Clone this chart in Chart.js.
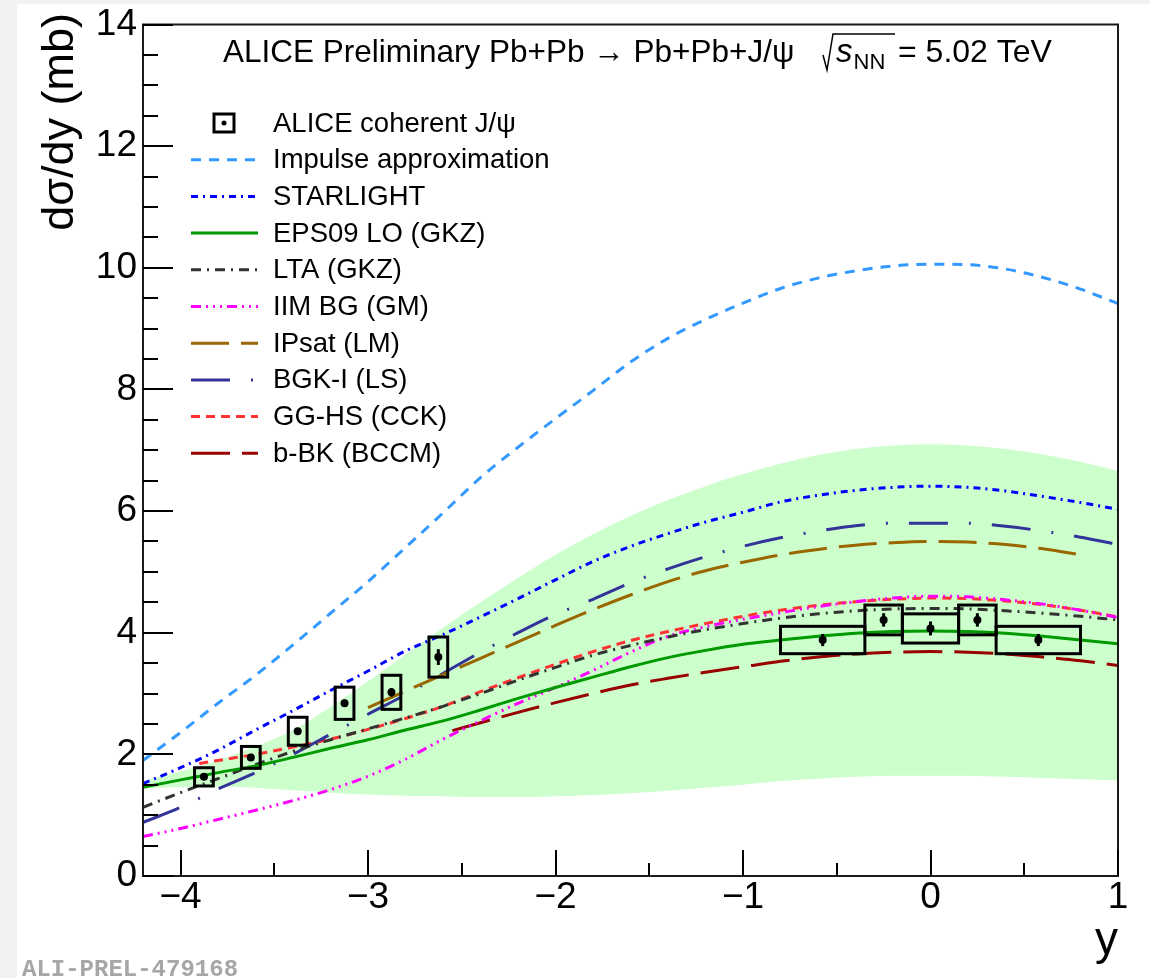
<!DOCTYPE html>
<html>
<head>
<meta charset="utf-8">
<script src="https://cdn.jsdelivr.net/npm/chart.js@4.4.0/dist/chart.umd.min.js"></script>
<style>
    html, body { margin: 0; padding: 0; background: #ffffff; }
    canvas { display: block; }
</style>
</head>
<body>
<canvas id="chart" width="1150" height="978"></canvas>
<script>
(function() {
    'use strict';

    var FONT = "'Liberation Sans', Arial, Helvetica, sans-serif";

    // Rapidity grid shared by most of the model curves
    var rapidity = [-4.2, -4.0, -3.8, -3.6, -3.4, -3.2, -3.0, -2.8, -2.6, -2.4, -2.2, -2.0, -1.8, -1.6,
                    -1.4, -1.2, -1.0, -0.8, -0.6, -0.4, -0.2, 0.0, 0.2, 0.4, 0.6, 0.8, 1.0];

    // Model predictions, dsigma/dy in mb
    var impulseApprox = [1.90, 2.36, 2.84, 3.30, 3.80, 4.32, 4.84, 5.40, 5.97, 6.55, 7.05, 7.52, 7.98, 8.45,
                         8.84, 9.15, 9.42, 9.66, 9.83, 9.95, 10.03, 10.06, 10.05, 9.98, 9.84, 9.65, 9.41];
    var starlight = [1.52, 1.78, 2.07, 2.40, 2.72, 3.05, 3.37, 3.70, 3.97, 4.26, 4.56, 4.87, 5.17, 5.42,
                     5.63, 5.82, 5.98, 6.15, 6.26, 6.34, 6.39, 6.41, 6.39, 6.33, 6.24, 6.14, 6.03];
    var eps09 = [1.46, 1.58, 1.70, 1.81, 1.95, 2.10, 2.24, 2.40, 2.55, 2.73, 2.92, 3.10, 3.27, 3.44,
                 3.59, 3.71, 3.81, 3.88, 3.94, 3.99, 4.02, 4.03, 4.02, 3.99, 3.94, 3.88, 3.82];
    var eps09High = [1.56, 1.72, 1.90, 2.13, 2.40, 2.78, 3.20, 3.64, 4.08, 4.50, 4.90, 5.28, 5.62, 5.92,
                     6.18, 6.41, 6.61, 6.78, 6.92, 7.02, 7.08, 7.10, 7.08, 7.02, 6.93, 6.81, 6.66];
    var eps09Low = [1.44, 1.46, 1.47, 1.45, 1.41, 1.37, 1.34, 1.32, 1.31, 1.30, 1.30, 1.31, 1.33, 1.36,
                    1.40, 1.45, 1.50, 1.56, 1.60, 1.63, 1.65, 1.65, 1.65, 1.63, 1.61, 1.59, 1.57];
    var lta = [1.13, 1.37, 1.60, 1.83, 2.05, 2.24, 2.42, 2.60, 2.79, 3.00, 3.22, 3.43, 3.63, 3.79,
               3.93, 4.05, 4.15, 4.24, 4.31, 4.36, 4.39, 4.40, 4.39, 4.36, 4.32, 4.27, 4.21];
    var iimBg = [0.65, 0.78, 0.93, 1.08, 1.24, 1.42, 1.64, 1.92, 2.25, 2.55, 2.84, 3.10, 3.38, 3.68,
                 3.94, 4.10, 4.22, 4.33, 4.43, 4.51, 4.57, 4.60, 4.59, 4.54, 4.47, 4.37, 4.25];
    var bgkI = [0.88, 1.13, 1.43, 1.70, 2.00, 2.33, 2.66, 2.98, 3.33, 3.68, 4.00, 4.30, 4.55, 4.82,
                5.05, 5.25, 5.42, 5.56, 5.67, 5.76, 5.80, 5.80, 5.80, 5.75, 5.67, 5.57, 5.45];

    var ipsatRapidity = [-3.0, -2.8, -2.6, -2.4, -2.2, -2.0, -1.8, -1.6, -1.4, -1.2, -1.0, -0.8, -0.6,
                         -0.4, -0.2, 0.0, 0.2, 0.4, 0.6, 0.8];
    var ipsat = [2.77, 3.04, 3.31, 3.58, 3.85, 4.12, 4.38, 4.62, 4.84, 5.02, 5.16, 5.28, 5.37,
                 5.44, 5.48, 5.50, 5.49, 5.45, 5.38, 5.28];

    var ggHsRapidity = [-3.9, -3.8, -3.6, -3.4, -3.2, -3.0, -2.8, -2.6, -2.4, -2.2, -2.0, -1.8, -1.6, -1.4,
                        -1.2, -1.0, -0.8, -0.6, -0.4, -0.2, 0.0, 0.2, 0.4, 0.6, 0.8, 1.0];
    var ggHs = [1.85, 1.90, 2.00, 2.12, 2.25, 2.41, 2.59, 2.79, 3.03, 3.26, 3.48, 3.69, 3.87, 4.02,
                4.15, 4.27, 4.37, 4.45, 4.51, 4.55, 4.57, 4.56, 4.52, 4.46, 4.37, 4.26];

    var bbkRapidity = [-2.55, -2.4, -2.2, -2.0, -1.8, -1.6, -1.4, -1.2, -1.0, -0.8, -0.6, -0.4, -0.2,
                       0.0, 0.2, 0.4, 0.6, 0.8, 1.0];
    var bbk = [2.39, 2.52, 2.69, 2.85, 3.00, 3.14, 3.25, 3.35, 3.44, 3.53, 3.60, 3.65, 3.68,
               3.69, 3.68, 3.65, 3.60, 3.54, 3.46];

    // ALICE measurement: bin centre, bin half width, value, stat. and syst. uncertainties
    var aliceRapidity = [-3.875, -3.625, -3.375, -3.125, -2.875, -2.625, -0.575, -0.25, 0.0, 0.25, 0.575];
    var aliceHalfWidth = [0.05, 0.05, 0.05, 0.05, 0.05, 0.05, 0.225, 0.10, 0.15, 0.10, 0.225];
    var aliceValue = [1.63, 1.95, 2.38, 2.84, 3.02, 3.60, 3.88, 4.21, 4.07, 4.21, 3.88];
    var aliceStat = [0.04, 0.05, 0.05, 0.06, 0.07, 0.13, 0.10, 0.11, 0.115, 0.11, 0.10];
    var aliceSyst = [0.15, 0.18, 0.23, 0.265, 0.28, 0.33, 0.225, 0.245, 0.24, 0.245, 0.225];

    // Axis ticks
    var xMajorTicks = [-4, -3, -2, -1, 0, 1];
    var xMinorTicks = [-3.5, -2.5, -1.5, -0.5, 0.5];
    var yMajorTicks = [0, 2, 4, 6, 8, 10, 12, 14];

    function points(xs, ys) {
        return xs.map(function(x, i) { return { x: x, y: ys[i] }; });
    }

    function curve(label, xs, ys, color, dash) {
        return {
            type: 'line',
            label: label,
            data: points(xs, ys),
            borderColor: color,
            borderWidth: 3,
            borderDash: dash,
            pointRadius: 0,
            fill: false,
            cubicInterpolationMode: 'monotone',
            order: 10
        };
    }

    var datasets = [
        {
            type: 'scatter',
            label: 'ALICE coherent J/\u03C8',
            data: points(aliceRapidity, aliceValue),
            pointRadius: 4,
            pointBackgroundColor: '#000000',
            pointBorderWidth: 0,
            isData: true,
            order: 0
        },
        curve('Impulse approximation', rapidity, impulseApprox, '#3399ff', [10, 8]),
        curve('STARLIGHT', rapidity, starlight, '#0000ff', [7, 5, 2, 5]),
        curve('EPS09 LO (GKZ)', rapidity, eps09, '#009900', []),
        curve('LTA (GKZ)', rapidity, lta, '#333333', [10, 6, 2, 6]),
        curve('IIM BG (GM)', rapidity, iimBg, '#ff00ff', [10, 5, 2, 5, 2, 5, 2, 5]),
        curve('IPsat (LM)', ipsatRapidity, ipsat, '#996600', [38, 12]),
        curve('BGK-I (LS)', rapidity, bgkI, '#333399', [39, 21, 2, 21]),
        curve('GG-HS (CCK)', ggHsRapidity, ggHs, '#ff3333', [9, 6]),
        curve('b-BK (BCCM)', bbkRapidity, bbk, '#990000', [39, 12]),
        // EPS09 uncertainty band
        {
            type: 'line',
            label: '',
            data: points(rapidity, eps09Low),
            borderWidth: 0,
            pointRadius: 0,
            fill: false,
            cubicInterpolationMode: 'monotone',
            order: 30
        },
        {
            type: 'line',
            label: '',
            data: points(rapidity, eps09High),
            borderWidth: 0,
            pointRadius: 0,
            backgroundColor: '#ccffcc',
            fill: '-1',
            cubicInterpolationMode: 'monotone',
            order: 31
        }
    ];

    // Error boxes, error bars and the ROOT-like frame, legend and labels
    var rootStyle = {
        id: 'rootStyle',

        beforeDraw: function(chart) {
            var ctx = chart.ctx;
            ctx.save();
            ctx.fillStyle = '#ffffff';
            ctx.fillRect(0, 0, chart.width, chart.height);
            ctx.fillStyle = '#f2f2f2';
            ctx.fillRect(0, 0, chart.width, 4);
            ctx.fillRect(0, 0, 17, chart.height);
            ctx.restore();
        },

        afterDatasetsDraw: function(chart) {
            var ctx = chart.ctx;
            var xs = chart.scales.x;
            var ys = chart.scales.y;

            ctx.save();
            ctx.strokeStyle = '#000000';
            ctx.lineWidth = 3;
            aliceRapidity.forEach(function(x, i) {
                var x0 = xs.getPixelForValue(x - aliceHalfWidth[i]);
                var x1 = xs.getPixelForValue(x + aliceHalfWidth[i]);
                var y0 = ys.getPixelForValue(aliceValue[i] + aliceSyst[i]);
                var y1 = ys.getPixelForValue(aliceValue[i] - aliceSyst[i]);
                ctx.strokeRect(x0, y0, x1 - x0, y1 - y0);

                var xc = xs.getPixelForValue(x);
                ctx.beginPath();
                ctx.moveTo(xc, ys.getPixelForValue(aliceValue[i] + aliceStat[i]));
                ctx.lineTo(xc, ys.getPixelForValue(aliceValue[i] - aliceStat[i]));
                ctx.stroke();
            });
            ctx.restore();
        },

        afterDraw: function(chart) {
            var ctx = chart.ctx;
            var area = chart.chartArea;
            var xs = chart.scales.x;
            var ys = chart.scales.y;

            ctx.save();

            // Frame
            ctx.strokeStyle = '#1a1a1a';
            ctx.lineWidth = 2;
            ctx.strokeRect(area.left, area.top, area.right - area.left, area.bottom - area.top);

            // Inward tick marks
            ctx.lineWidth = 2;
            ctx.strokeStyle = '#000000';
            ctx.beginPath();
            for (var v = 0; v <= 14.001; v += 0.5) {
                var py = Math.round(ys.getPixelForValue(v));
                var len = (yMajorTicks.indexOf(v) >= 0) ? 30 : 15;
                ctx.moveTo(area.left, py);
                ctx.lineTo(area.left + len, py);
            }
            xMajorTicks.forEach(function(t) {
                var px = Math.round(xs.getPixelForValue(t));
                ctx.moveTo(px, area.bottom);
                ctx.lineTo(px, area.bottom - 26);
            });
            xMinorTicks.forEach(function(t) {
                var px = Math.round(xs.getPixelForValue(t));
                ctx.moveTo(px, area.bottom);
                ctx.lineTo(px, area.bottom - 13);
            });
            ctx.stroke();

            // Axis titles
            ctx.fillStyle = '#000000';
            ctx.font = '46px ' + FONT;
            ctx.textAlign = 'right';
            ctx.textBaseline = 'alphabetic';
            ctx.fillText('y', area.right, 954);

            ctx.save();
            ctx.translate(73, 13);
            ctx.rotate(-Math.PI / 2);
            ctx.font = '45px ' + FONT;
            ctx.textAlign = 'right';
            ctx.fillText('d\u03C3/dy (mb)', 0, 0);
            ctx.restore();

            // Header line with the collision system and energy
            ctx.textAlign = 'left';
            ctx.font = '31.5px ' + FONT;
            ctx.fillText('ALICE Preliminary Pb+Pb \u2192 Pb+Pb+J/\u03C8', 223, 62);
            ctx.lineWidth = 1.5;
            ctx.beginPath();
            ctx.moveTo(823, 55);
            ctx.lineTo(827, 70);
            ctx.lineTo(833, 34);
            ctx.lineTo(895, 34);
            ctx.stroke();
            ctx.font = 'italic 33px ' + FONT;
            ctx.fillText('s', 836, 62);
            var sEnd = 836 + ctx.measureText('s').width;
            ctx.font = '22px ' + FONT;
            ctx.fillText('NN', sEnd + 1, 69);
            ctx.font = '32px ' + FONT;
            ctx.fillText('= 5.02 TeV', 898, 62);

            // Legend
            var rowY = 123;
            ctx.font = '27.5px ' + FONT;
            ctx.textBaseline = 'middle';
            chart.data.datasets.forEach(function(ds) {
                if (!ds.label) {
                    return;
                }
                if (ds.isData) {
                    ctx.lineWidth = 3;
                    ctx.strokeStyle = '#000000';
                    ctx.setLineDash([]);
                    ctx.strokeRect(214, rowY - 9, 20, 18);
                    ctx.beginPath();
                    ctx.arc(224, rowY, 2.5, 0, 2 * Math.PI);
                    ctx.fillStyle = '#000000';
                    ctx.fill();
                } else {
                    ctx.lineWidth = 3;
                    ctx.strokeStyle = ds.borderColor;
                    ctx.setLineDash(ds.borderDash || []);
                    ctx.beginPath();
                    ctx.moveTo(191, rowY);
                    ctx.lineTo(258, rowY);
                    ctx.stroke();
                    ctx.setLineDash([]);
                }
                ctx.fillStyle = '#000000';
                ctx.fillText(ds.label, 273, rowY + 1);
                rowY += 36.7;
            });

            // Figure id
            ctx.textBaseline = 'alphabetic';
            ctx.font = 'bold 24px "Liberation Mono", "Courier New", monospace';
            ctx.fillStyle = '#a6a6a6';
            ctx.fillText('ALI-PREL-479168', 22, 976);

            ctx.restore();
        }
    };

    var chart = new Chart(document.getElementById('chart'), {
        data: { datasets: datasets },
        options: {
            responsive: false,
            animation: false,
            devicePixelRatio: 1,
            layout: { padding: { left: 17, top: 22, right: 32, bottom: 52 } },
            plugins: {
                legend: { display: false },
                title: { display: false },
                tooltip: { enabled: false }
            },
            scales: {
                x: {
                    type: 'linear',
                    min: -4.2,
                    max: 1,
                    border: { display: false },
                    grid: { display: false, drawTicks: false },
                    ticks: {
                        stepSize: 1,
                        includeBounds: false,
                        maxRotation: 0,
                        padding: 3,
                        color: '#000000',
                        font: { family: FONT, size: 37, lineHeight: 1 },
                        callback: function(value) {
                            return value < 0 ? '\u2212' + Math.abs(value) : String(value);
                        }
                    },
                    afterFit: function(scale) { scale.height = 50; }
                },
                y: {
                    type: 'linear',
                    min: 0,
                    max: 14,
                    border: { display: false },
                    grid: { display: false, drawTicks: false },
                    ticks: {
                        stepSize: 2,
                        padding: 6,
                        color: '#000000',
                        font: { family: FONT, size: 37, lineHeight: 1 }
                    },
                    afterFit: function(scale) { scale.width = 126; }
                }
            }
        },
        plugins: [rootStyle]
    });
})();
</script>
</body>
</html>
